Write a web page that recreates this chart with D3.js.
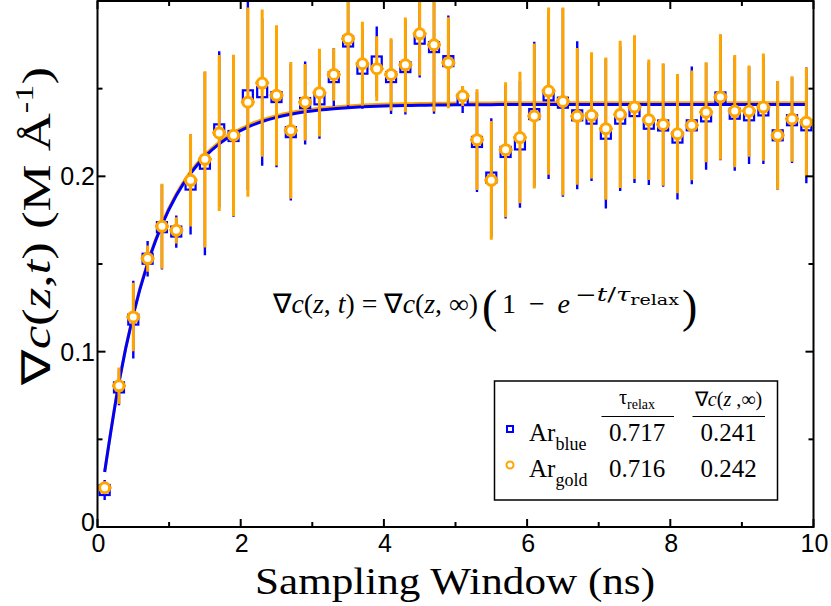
<!DOCTYPE html>
<html><head><meta charset="utf-8">
<script src="https://cdn.jsdelivr.net/npm/d3@7"></script>
<style>body{margin:0;background:#fff} svg{display:block}</style>
</head><body><svg id="c" width="831" height="606"></svg>
<script>
// ---- data ----
const tValues = [0.1,0.3,0.5,0.7,0.9,1.1,1.3,1.5,1.7,1.9,2.1,2.3,2.5,2.7,2.9,3.1,3.3,3.5,3.7,3.9,
  4.1,4.3,4.5,4.7,4.9,5.1,5.3,5.5,5.7,5.9,6.1,6.3,6.5,6.7,6.9,7.1,7.3,7.5,7.7,7.9,
  8.1,8.3,8.5,8.7,8.9,9.1,9.3,9.5,9.7,9.9];
const goldValues = [0.0224,0.0805,0.1198,0.1531,0.1715,0.1692,0.1977,0.2097,0.2247,0.2234,
  0.2423,0.2532,0.2462,0.2262,0.2423,0.2477,0.2581,0.2785,0.2642,0.2614,
  0.2581,0.2636,0.2813,0.2750,0.2648,0.2458,0.2209,0.1977,0.2152,0.2221,
  0.2344,0.2486,0.2427,0.2342,0.2348,0.2272,0.2353,0.2395,0.2323,0.2296,
  0.2243,0.2291,0.2366,0.2452,0.2372,0.2372,0.2395,0.2234,0.2327,0.2309];
const goldErrors = [0.0035,0.0104,0.0195,0.0075,0.0242,0.0075,0.0263,0.0503,0.0445,0.0460,
  0.0540,0.0420,0.0400,0.0390,0.0218,0.0250,0.0150,0.0380,0.0240,0.0185,
  0.0207,0.0270,0.0238,0.0380,0.0260,0.0057,0.0287,0.0338,0.0385,0.0375,
  0.0413,0.0477,0.0536,0.0390,0.0360,0.0406,0.0420,0.0410,0.0344,0.0349,
  0.0340,0.0313,0.0285,0.0358,0.0320,0.0260,0.0306,0.0310,0.0244,0.0310];
const blueValues = [0.0211,0.0796,0.1183,0.1530,0.1710,0.1685,0.1953,0.2072,0.2268,0.2230,
  0.2462,0.2480,0.2452,0.2252,0.2418,0.2439,0.2566,0.2769,0.2614,0.2655,
  0.2566,0.2623,0.2785,0.2737,0.2657,0.2437,0.2196,0.1993,0.2139,0.2182,
  0.2355,0.2462,0.2420,0.2348,0.2329,0.2243,0.2329,0.2372,0.2300,0.2290,
  0.2221,0.2291,0.2342,0.2450,0.2357,0.2348,0.2376,0.2234,0.2320,0.2291];
const blueErrors = [0.0057,0.0101,0.0222,0.0101,0.0242,0.0092,0.0285,0.0522,0.0445,0.0460,
  0.0540,0.0420,0.0400,0.0390,0.0237,0.0225,0.0165,0.0380,0.0228,0.0200,
  0.0210,0.0270,0.0222,0.0380,0.0260,0.0076,0.0285,0.0338,0.0380,0.0361,
  0.0413,0.0477,0.0536,0.0422,0.0355,0.0427,0.0412,0.0410,0.0350,0.0349,
  0.0353,0.0336,0.0304,0.0358,0.0325,0.0277,0.0306,0.0310,0.0244,0.0330];
const seriesNames = ["blue", "gold"];
const tauRelax = [0.717, 0.716];
const gradInf = [0.241, 0.242];
const xTicks = [0, 2, 4, 6, 8, 10];
const xMinorTicks = [1, 3, 5, 7, 9];
const yTicks = [0, 0.1, 0.2];
const yTickLabels = ["0", "0.1", "0.2"];
const yMinorTicks = [0.05, 0.15, 0.25];

// ---- layout ----
const BLUE = "#0000ff", GOLD = "#ffa500";
const L = 97.5, R = 813.5, T = 1, B = 527;
const svg = d3.select("#c");
const x = d3.scaleLinear().domain([0, 10]).range([L, R]);
const y = d3.scaleLinear().domain([0, 0.3]).range([B, T]);

svg.append("defs").append("clipPath").attr("id", "clip")
  .append("rect").attr("x", L).attr("y", T).attr("width", R - L).attr("height", B - T);
const plot = svg.append("g").attr("clip-path", "url(#clip)");

// fit curves (model from legend parameters), gold drawn first, blue on top
const fitLine = d3.line().x(d => x(d[0])).y(d => y(d[1])).curve(d3.curveMonotoneX);
[1, 0].forEach(i => {
  const pts = tValues.map(t => [t, gradInf[i] * (1 - Math.exp(-t / tauRelax[i]))]);
  plot.append("path").attr("d", fitLine(pts)).attr("fill", "none")
    .attr("stroke", i === 0 ? BLUE : GOLD).attr("stroke-width", 3);
});

const blue = tValues.map((t, i) => ({t, v: blueValues[i], e: blueErrors[i]}));
const gold = tValues.map((t, i) => ({t, v: goldValues[i], e: goldErrors[i]}));

// blue error bars & squares
plot.append("g").selectAll("line").data(blue).join("line")
  .attr("x1", d => x(d.t)).attr("x2", d => x(d.t))
  .attr("y1", d => y(d.v - d.e)).attr("y2", d => y(d.v + d.e))
  .attr("stroke", BLUE).attr("stroke-width", 2.4);
plot.append("g").selectAll("rect").data(blue).join("rect")
  .attr("x", d => x(d.t) - 5).attr("y", d => y(d.v) - 5)
  .attr("width", 10).attr("height", 10)
  .attr("fill", "#fff").attr("stroke", BLUE).attr("stroke-width", 2.2);
// gold error bars, stubs & circles
plot.append("g").selectAll("line").data(gold).join("line")
  .attr("x1", d => x(d.t)).attr("x2", d => x(d.t))
  .attr("y1", d => y(d.v - d.e)).attr("y2", d => y(d.v + d.e))
  .attr("stroke", GOLD).attr("stroke-width", 3);
plot.append("g").selectAll("line").data(gold).join("line")
  .attr("x1", d => x(d.t) - 7).attr("x2", d => x(d.t) + 7)
  .attr("y1", d => y(d.v)).attr("y2", d => y(d.v))
  .attr("stroke", GOLD).attr("stroke-width", 2.5);
plot.append("g").selectAll("circle").data(gold).join("circle")
  .attr("cx", d => x(d.t)).attr("cy", d => y(d.v)).attr("r", 5)
  .attr("fill", "#fff").attr("stroke", GOLD).attr("stroke-width", 3);

// frame and ticks
svg.append("rect").attr("x", L).attr("y", T).attr("width", R - L).attr("height", B - T)
  .attr("fill", "none").attr("stroke", "#000").attr("stroke-width", 2);
const tk = svg.append("g").attr("stroke", "#000").attr("stroke-width", 2);
const tick = (arr, len, vertical) => arr.forEach(v => {
  if (vertical) {
    tk.append("line").attr("x1", x(v)).attr("x2", x(v)).attr("y1", B).attr("y2", B - len);
    tk.append("line").attr("x1", x(v)).attr("x2", x(v)).attr("y1", T).attr("y2", T + len);
  } else {
    tk.append("line").attr("y1", y(v)).attr("y2", y(v)).attr("x1", L).attr("x2", L + len);
    tk.append("line").attr("y1", y(v)).attr("y2", y(v)).attr("x1", R).attr("x2", R - len);
  }
});
tick(xTicks, 8, true); tick(xMinorTicks, 5, true);
tick(yTicks, 8, false); tick(yMinorTicks, 5, false);

const sans = "'Liberation Sans', Arial, Helvetica, sans-serif";
const serif = "'Liberation Serif', 'Times New Roman', serif";
const wideSerif = "'DejaVu Serif', 'Liberation Serif', serif";
svg.append("g").selectAll("text").data(xTicks).join("text")
  .attr("x", d => x(d) + 1).attr("y", 552).attr("text-anchor", "middle")
  .attr("font-family", sans).attr("font-size", 25).text(d => d);
svg.append("g").selectAll("text").data(yTicks).join("text")
  .attr("x", 95).attr("y", d => y(d) + (d === 0 ? 4 : 9)).attr("text-anchor", "end")
  .attr("font-family", sans).attr("font-size", 25).text((d, i) => yTickLabels[i]);

// axis titles
svg.append("text").attr("x", 255).attr("y", 594)
  .attr("textLength", 400).attr("lengthAdjust", "spacingAndGlyphs")
  .attr("font-family", serif).attr("font-size", 38).text("Sampling Window (ns)");
const yl = svg.append("text").attr("transform", "translate(50,385) rotate(-90)")
  .attr("font-family", serif).attr("font-size", 40)
  .attr("textLength", 318).attr("lengthAdjust", "spacingAndGlyphs");
yl.append("tspan").text("∇");
yl.append("tspan").attr("font-style", "italic").text("c");
yl.append("tspan").text("(");
yl.append("tspan").attr("font-style", "italic").text("z");
yl.append("tspan").text(",");
yl.append("tspan").attr("font-style", "italic").text("t");
yl.append("tspan").text(") (M Å");
yl.append("tspan").attr("font-size", 26).attr("dy", -17).text("-1");
yl.append("tspan").attr("dy", 17).text(")");

// equation
const eq = svg.append("text").attr("x", 273).attr("y", 313)
  .attr("font-family", serif).attr("font-size", 27)
  .attr("textLength", 205).attr("lengthAdjust", "spacingAndGlyphs");
const parts = [["∇",0],["c",1],["(",0],["z",1],[", ",0],["t",1],[") = ∇",0],["c",1],["(",0],["z",1],[", ∞)",0]];
parts.forEach(p => eq.append("tspan").attr("font-style", p[1] ? "italic" : null).text(p[0]));
const big = (txt, x0) => svg.append("text").attr("x", x0).attr("y", 322)
  .attr("font-family", serif).attr("font-size", 46).text(txt);
big("(", 482);
big(")", 682);
const eq2 = svg.append("text").attr("x", 502).attr("y", 313)
  .attr("font-family", serif).attr("font-size", 28)
  .attr("textLength", 68).attr("lengthAdjust", "spacing");
eq2.append("tspan").text("1 − ");
eq2.append("tspan").attr("font-style", "italic").text("e");
const sup = svg.append("text").attr("x", 575).attr("y", 301)
  .attr("font-family", wideSerif).attr("font-size", 19)
  .attr("textLength", 104).attr("lengthAdjust", "spacingAndGlyphs");
sup.append("tspan").text("−");
sup.append("tspan").attr("font-style", "italic").text("t");
sup.append("tspan").text("/");
sup.append("tspan").attr("font-style", "italic").text("τ");
sup.append("tspan").attr("font-size", 14).attr("dy", 4).text("relax");

// legend
const lg = svg.append("g");
lg.append("rect").attr("x", 494.5).attr("y", 381).attr("width", 283).attr("height", 119)
  .attr("fill", "#fff").attr("stroke", "#000").attr("stroke-width", 1.5);
const colX = [637, 728.5];
const h1 = lg.append("text").attr("x", colX[0]).attr("y", 404).attr("text-anchor", "middle")
  .attr("font-family", serif).attr("font-size", 20);
h1.append("tspan").text("τ");
h1.append("tspan").attr("font-size", 14).attr("dy", 5).text("relax");
const h2 = lg.append("text").attr("x", colX[1]).attr("y", 406).attr("text-anchor", "middle")
  .attr("font-family", serif).attr("font-size", 20);
h2.append("tspan").text("∇");
h2.append("tspan").attr("font-style", "italic").text("c");
h2.append("tspan").text("(");
h2.append("tspan").attr("font-style", "italic").text("z");
h2.append("tspan").text(" ,∞)");
lg.append("line").attr("x1", 601.5).attr("x2", 674).attr("y1", 416.5).attr("y2", 416.5)
  .attr("stroke", "#000").attr("stroke-width", 1.2);
lg.append("line").attr("x1", 692.5).attr("x2", 765).attr("y1", 416.5).attr("y2", 416.5)
  .attr("stroke", "#000").attr("stroke-width", 1.2);
const rowY = [441, 477];
seriesNames.forEach((name, i) => {
  const cy = rowY[i] - 12;
  if (i === 0) {
    lg.append("rect").attr("x", 507).attr("y", cy - 3).attr("width", 6).attr("height", 6)
      .attr("fill", "#fff").attr("stroke", BLUE).attr("stroke-width", 2);
  } else {
    lg.append("circle").attr("cx", 510).attr("cy", cy).attr("r", 3.5)
      .attr("fill", "#fff").attr("stroke", GOLD).attr("stroke-width", 2);
  }
  const tx = lg.append("text").attr("x", 529).attr("y", rowY[i])
    .attr("font-family", serif).attr("font-size", 25);
  tx.append("tspan").text("Ar");
  tx.append("tspan").attr("font-size", 18).attr("dy", 9).text(name);
  lg.append("text").attr("x", colX[0]).attr("y", rowY[i]).attr("text-anchor", "middle")
    .attr("font-family", serif).attr("font-size", 25).text(tauRelax[i].toFixed(3));
  lg.append("text").attr("x", colX[1]).attr("y", rowY[i]).attr("text-anchor", "middle")
    .attr("font-family", serif).attr("font-size", 25).text(gradInf[i].toFixed(3));
});
</script></body></html>
